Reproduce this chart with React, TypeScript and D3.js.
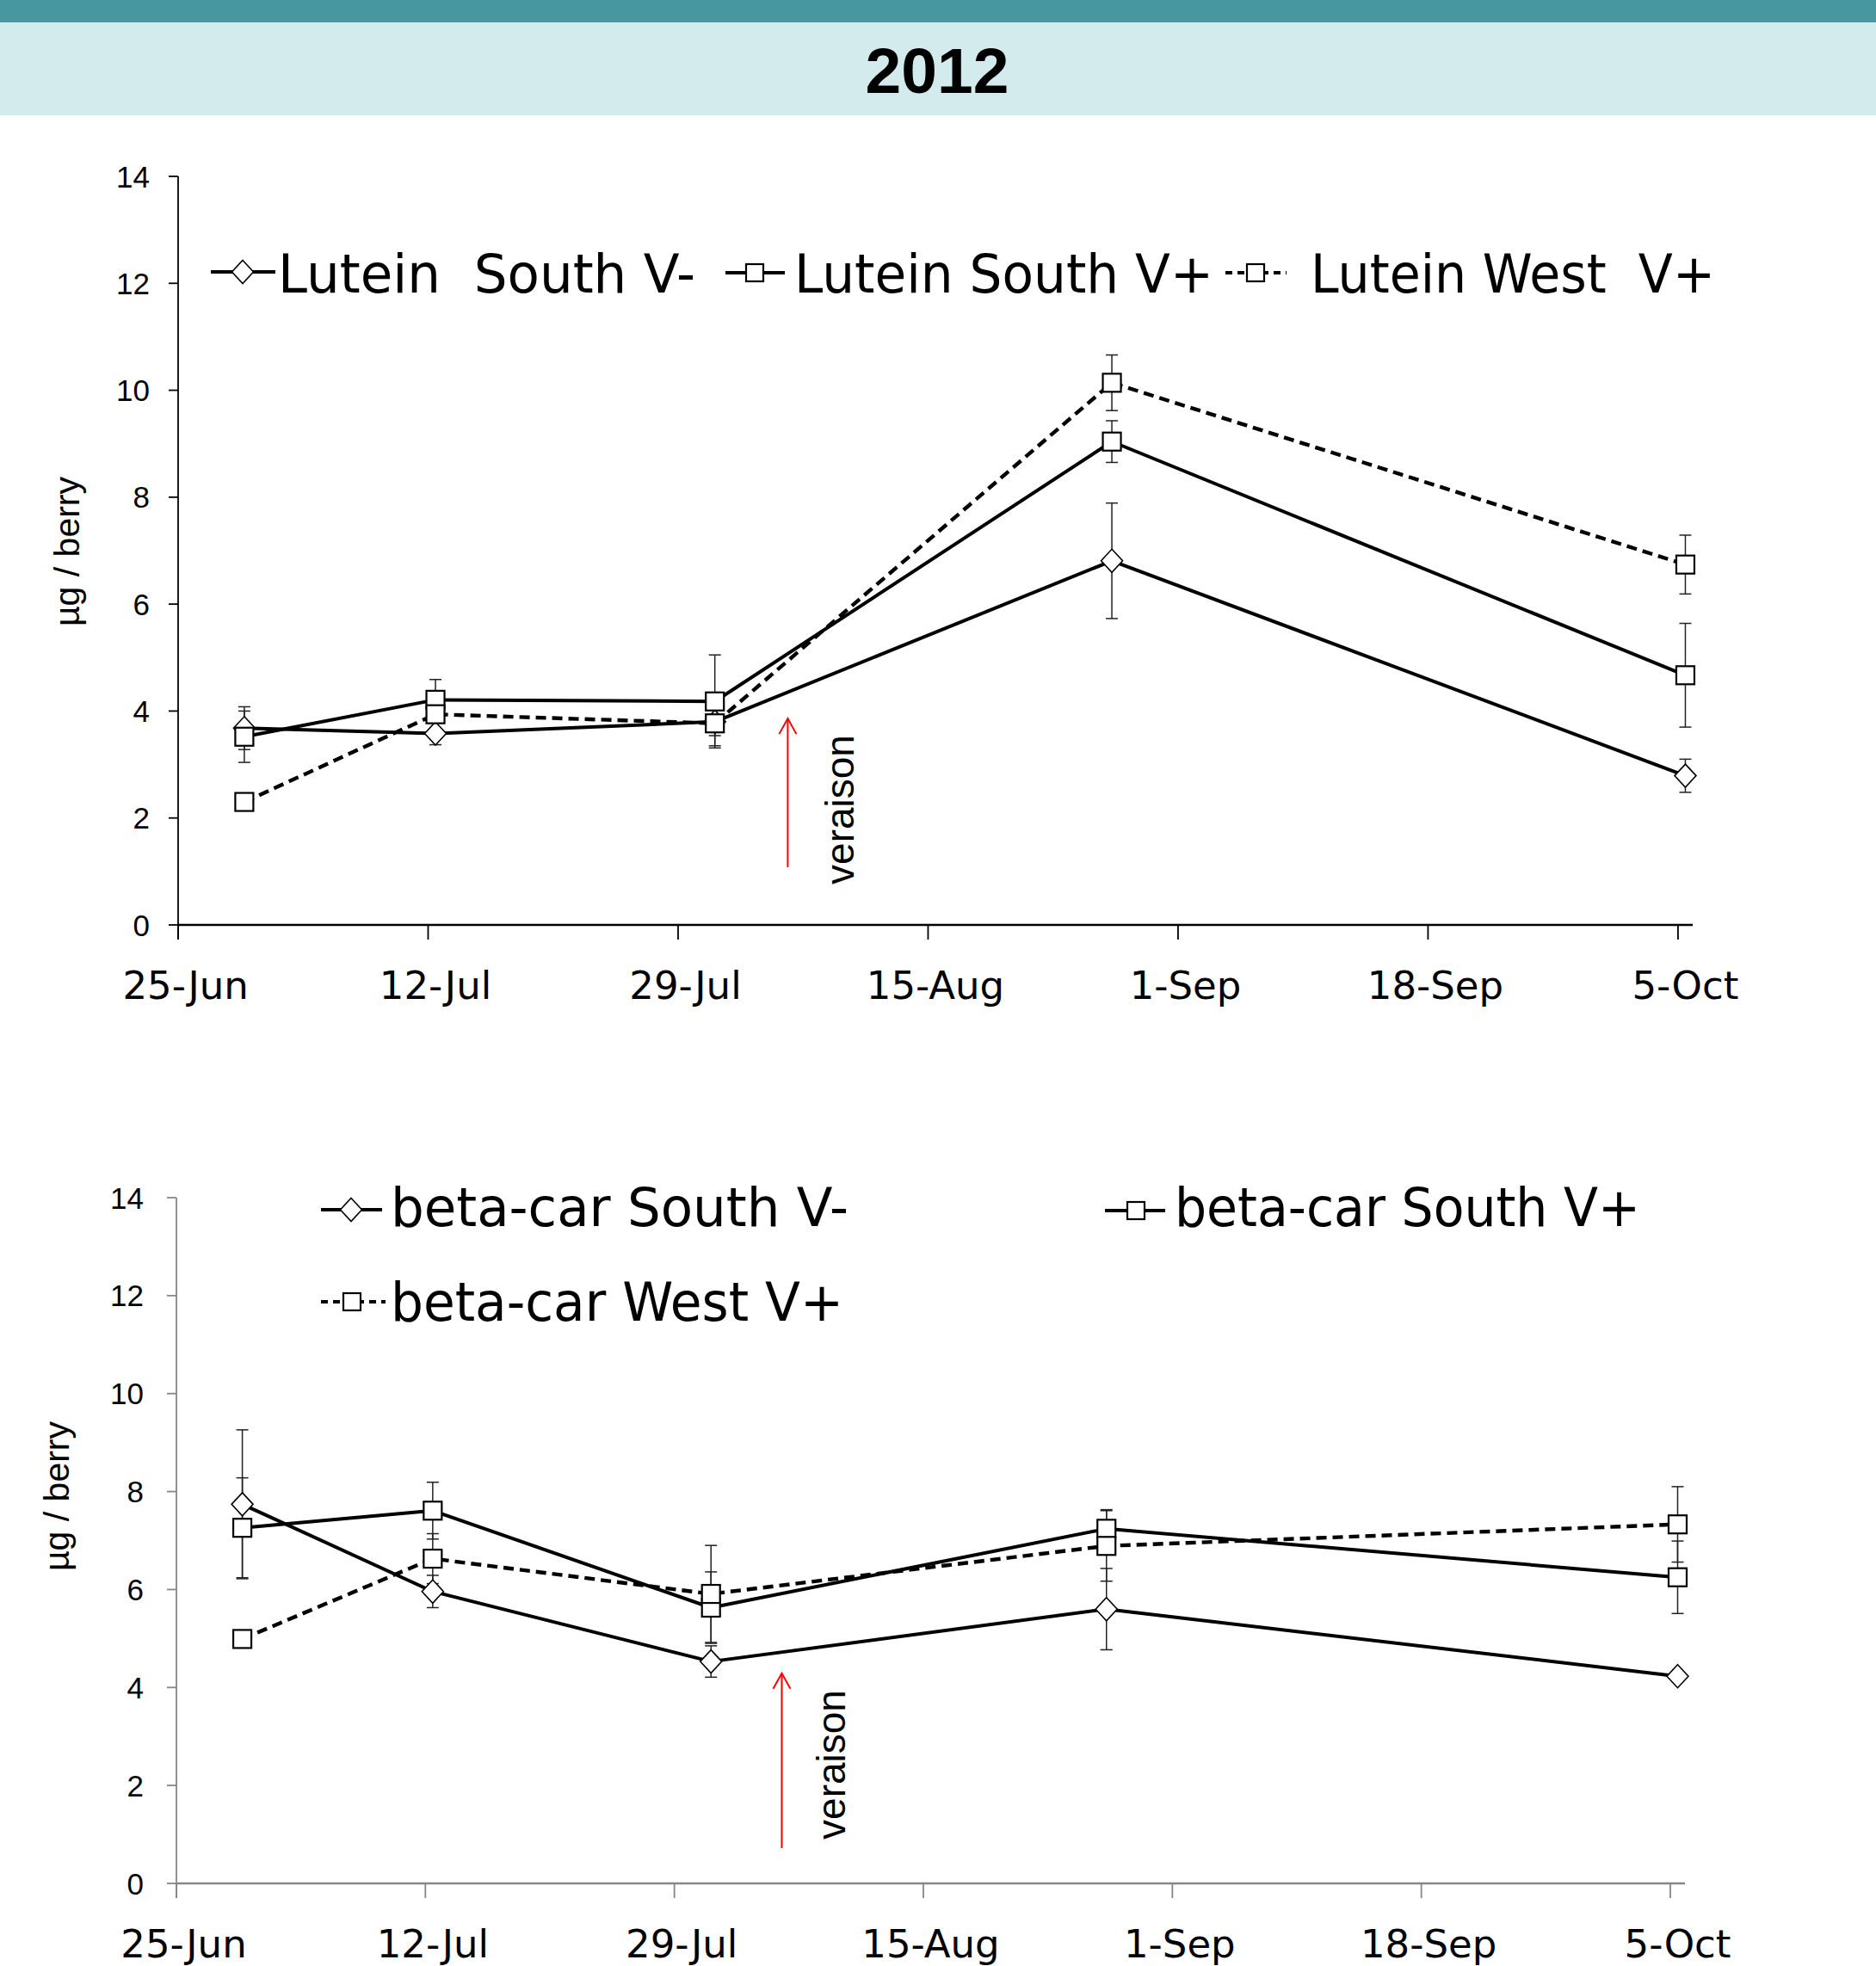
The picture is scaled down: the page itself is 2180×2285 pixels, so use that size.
import React from "react";
import * as d3 from "d3";

// ---------- data ----------
const sampleDates = ["2012-06-29", "2012-07-12", "2012-07-31", "2012-08-27", "2012-10-05"];
const tickDates = ["2012-06-25", "2012-07-12", "2012-07-29", "2012-08-15", "2012-09-01", "2012-09-18", "2012-10-05"];
const yTicks = [0, 2, 4, 6, 8, 10, 12, 14];

const luteinSouthVminus = [3.68, 3.58, 3.8, 6.81, 2.79];
const luteinSouthVminusErr = [0.4, 0.21, 0.26, 1.08, 0.31];
const luteinSouthVplus = [3.52, 4.21, 4.18, 9.04, 4.67];
const luteinSouthVplusErr = [0.48, 0.38, 0.87, 0.39, 0.97];
const luteinWestVplus = [2.3, 3.94, 3.77, 10.14, 6.74];
const luteinWestVplusErr = [0.1, 0.1, 0.42, 0.52, 0.55];

const betaSouthVminus = [7.74, 5.96, 4.53, 5.6, 4.23];
const betaSouthVminusErr = [1.52, 0.33, 0.32, 0.83, 0.05];
const betaSouthVplus = [7.26, 7.61, 5.63, 7.24, 6.25];
const betaSouthVplusErr = [1.02, 0.58, 0.73, 0.39, 0.74];
const betaWestVplus = [4.99, 6.63, 5.91, 6.89, 7.33];
const betaWestVplusErr = [0.1, 0.51, 0.99, 0.72, 0.77];

const luteinLabels = ["Lutein  South V-", "Lutein South V+", "Lutein West  V+"];
const betaLabels = ["beta-car South V-", "beta-car South V+", "beta-car West V+"];

const veraisonDate = "2012-08-05";
const title = "2012";
const yTitle = "µg / berry";

// ---------- helpers ----------
const parse = (s: string) => new Date(s + "T00:00:00Z");
const HALF_DAY = 12 * 3600 * 1000;
const COMIC = "'Comic Sans MS', 'DejaVu Sans', sans-serif";
const ARIAL = "Arial, 'Liberation Sans', sans-serif";

type Series = { values: number[]; err: number[]; marker: "diamond" | "square"; dashed: boolean };

type Layout = {
  x0: number; x1: number; yTop: number; yBot: number; axisColor: string;
  yLabelX: number; xLabelBaseline: number; yTitleX: number; yTitleY: number;
  arrowFrom: number; arrowTo: number; verX: number; verY: number; verShiftH: number;
};

function Marker({ kind, cx, cy, legend }: { kind: string; cx: number; cy: number; legend?: boolean }) {
  if (kind === "diamond") {
    const hw = 12.5, hh = 13.5;
    return (
      <path d={`M${cx},${cy - hh}L${cx + hw},${cy}L${cx},${cy + hh}L${cx - hw},${cy}Z`}
        fill="#fff" stroke="#000" strokeWidth={1.6} />
    );
  }
  const s = legend ? 20 : 21;
  return <rect x={cx - s / 2} y={cy - s / 2} width={s} height={s} fill="#fff" stroke="#000" strokeWidth={2.2} />;
}

function Chart({ layout, series }: { layout: Layout; series: Series[] }) {
  const x = d3.scaleUtc()
    .domain([parse("2012-06-25"), parse("2012-10-06")])
    .range([layout.x0, layout.x1]);
  const y = d3.scaleLinear().domain([0, 14]).range([layout.yBot, layout.yTop]);
  const fmt = d3.utcFormat("%-d-%b");
  const pts = sampleDates.map((d) => new Date(parse(d).getTime() + HALF_DAY));
  const line = d3.line<number>().x((_, i) => x(pts[i])).y((v) => y(v));
  const vx = x(new Date(parse(veraisonDate).getTime() + layout.verShiftH * 3600 * 1000));
  const aTip = y(layout.arrowTo);
  const aBase = y(layout.arrowFrom);

  return (
    <g>
      {/* axes */}
      <line x1={layout.x0} x2={layout.x0} y1={layout.yTop} y2={layout.yBot + 17} stroke={layout.axisColor} strokeWidth={1.8} />
      <line x1={layout.x0} x2={layout.x1} y1={layout.yBot} y2={layout.yBot} stroke={layout.axisColor} strokeWidth={2.4} />
      {yTicks.map((t) => (
        <g key={"y" + t}>
          <line x1={layout.x0 - 11} x2={layout.x0} y1={y(t)} y2={y(t)} stroke={layout.axisColor} strokeWidth={1.8} />
          <text x={layout.yLabelX} y={y(t)} dy="0.36em" textAnchor="end" fontFamily={ARIAL} fontSize={35} fill="#000">{t}</text>
        </g>
      ))}
      {tickDates.map((d) => {
        const dt = parse(d);
        const tx = x(dt);
        return (
          <g key={d}>
            <line x1={tx} x2={tx} y1={layout.yBot} y2={layout.yBot + 17} stroke={layout.axisColor} strokeWidth={1.8} />
            <text x={x(new Date(dt.getTime() + HALF_DAY))} y={layout.xLabelBaseline} textAnchor="middle"
              fontFamily={COMIC} fontSize={45} fill="#000">{fmt(dt)}</text>
          </g>
        );
      })}
      <text transform={`translate(${layout.yTitleX},${layout.yTitleY}) rotate(-90)`} textAnchor="middle"
        fontFamily={ARIAL} fontSize={41} fill="#000">{yTitle}</text>

      {/* veraison */}
      <line x1={vx} x2={vx} y1={aBase} y2={aTip} stroke="#ff0000" strokeWidth={2} />
      <path d={`M${vx - 10},${aTip + 18}L${vx},${aTip}L${vx + 10},${aTip + 18}`} fill="none" stroke="#ff0000" strokeWidth={2} />
      <text transform={`translate(${layout.verX},${layout.verY}) rotate(-90)`} textAnchor="middle"
        fontFamily={ARIAL} fontSize={46} fill="#000">veraison</text>

      {/* lines */}
      {series.map((s, k) => (
        <path key={"l" + k} d={line(s.values) || ""} fill="none" stroke="#000" strokeWidth={s.dashed ? 4.4 : 4}
          strokeDasharray={s.dashed ? "12,7" : undefined} strokeLinejoin="round" />
      ))}
      {/* error bars */}
      {series.map((s, k) => (
        <g key={"e" + k}>
          {s.values.map((v, i) => {
            const px = x(pts[i]);
            const top = y(v + s.err[i]);
            const bot = y(v - s.err[i]);
            return (
              <g key={i}>
                <line x1={px} x2={px} y1={top} y2={bot} stroke="#222" strokeWidth={1.5} />
                <line x1={px - 7} x2={px + 7} y1={top} y2={top} stroke="#222" strokeWidth={1.5} />
                <line x1={px - 7} x2={px + 7} y1={bot} y2={bot} stroke="#222" strokeWidth={1.5} />
              </g>
            );
          })}
        </g>
      ))}
      {/* markers */}
      {series.map((s, k) => (
        <g key={"m" + k}>
          {s.values.map((v, i) => (
            <Marker key={i} kind={s.marker} cx={x(pts[i])} cy={y(v)} />
          ))}
        </g>
      ))}
    </g>
  );
}

function LegendItem({ x1, x2, mx, y, kind, dashed, label, tx, tw, baseline }: any) {
  return (
    <g>
      <line x1={x1} x2={x2} y1={y} y2={y} stroke="#000" strokeWidth={4} strokeDasharray={dashed ? "8,6" : undefined} />
      <Marker kind={kind} cx={mx} cy={y} legend />
      <text x={tx} y={baseline} fontFamily={COMIC} fontSize={62} fill="#000" textLength={tw}
        lengthAdjust="spacingAndGlyphs" style={{ whiteSpace: "pre" }}>{label}</text>
    </g>
  );
}

export default function App() {
  const topLayout: Layout = {
    x0: 207, x1: 1967, yTop: 205, yBot: 1075, axisColor: "#000",
    yLabelX: 174, xLabelBaseline: 1161, yTitleX: 92, yTitleY: 641,
    arrowFrom: 1.08, arrowTo: 3.86, verX: 992, verY: 941, verShiftH: 11,
  };
  const botLayout: Layout = {
    x0: 205, x1: 1958, yTop: 1392, yBot: 2189, axisColor: "#868686",
    yLabelX: 167, xLabelBaseline: 2275, yTitleX: 80, yTitleY: 1739,
    arrowFrom: 0.72, arrowTo: 4.29, verX: 982, verY: 2051, verShiftH: 8,
  };
  const luteinSeries: Series[] = [
    { values: luteinSouthVminus, err: luteinSouthVminusErr, marker: "diamond", dashed: false },
    { values: luteinSouthVplus, err: luteinSouthVplusErr, marker: "square", dashed: false },
    { values: luteinWestVplus, err: luteinWestVplusErr, marker: "square", dashed: true },
  ];
  const betaSeries: Series[] = [
    { values: betaSouthVminus, err: betaSouthVminusErr, marker: "diamond", dashed: false },
    { values: betaSouthVplus, err: betaSouthVplusErr, marker: "square", dashed: false },
    { values: betaWestVplus, err: betaWestVplusErr, marker: "square", dashed: true },
  ];

  return (
    <svg width={2180} height={2285} style={{ position: "absolute", left: 0, top: 0, background: "#fff" }}>
      <rect x={0} y={0} width={2180} height={2285} fill="#fff" />
      <rect x={0} y={0} width={2180} height={26} fill="#4697a0" />
      <rect x={0} y={26} width={2180} height={108} fill="#d3ebed" />
      <text x={1089} y={108} textAnchor="middle" fontFamily={ARIAL} fontWeight="bold" fontSize={75} fill="#000">{title}</text>

      <Chart layout={topLayout} series={luteinSeries} />
      <Chart layout={botLayout} series={betaSeries} />

      {/* top legend */}
      <LegendItem x1={245} x2={320} mx={282} y={316} kind="diamond" dashed={false} label={luteinLabels[0]} tx={323} tw={485} baseline={340} />
      <LegendItem x1={843} x2={912} mx={877} y={317} kind="square" dashed={false} label={luteinLabels[1]} tx={923} tw={487} baseline={340} />
      <LegendItem x1={1424} x2={1495} mx={1459} y={317} kind="square" dashed={true} label={luteinLabels[2]} tx={1523} tw={470} baseline={340} />

      {/* bottom legend */}
      <LegendItem x1={373} x2={444} mx={408} y={1406} kind="diamond" dashed={false} label={betaLabels[0]} tx={454} tw={532} baseline={1425} />
      <LegendItem x1={1284} x2={1354} mx={1320} y={1407} kind="square" dashed={false} label={betaLabels[1]} tx={1365} tw={541} baseline={1425} />
      <LegendItem x1={373} x2={448} mx={409} y={1513} kind="square" dashed={true} label={betaLabels[2]} tx={454} tw={526} baseline={1535} />
    </svg>
  );
}
